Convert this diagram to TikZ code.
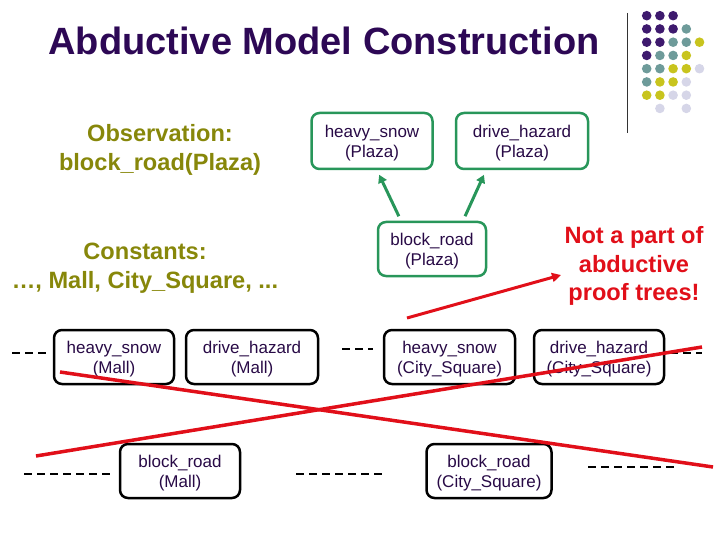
\documentclass[tikz,border=0pt]{standalone}
\usepackage{fontspec}
\setmainfont{Liberation Sans}
\usepackage{tikz}
\usetikzlibrary{positioning, arrows.meta}

\definecolor{titlepurple}{RGB}{45,8,85}
\definecolor{nodeink}{RGB}{40,10,70}
\definecolor{olive}{RGB}{135,135,10}
\definecolor{proofgreen}{RGB}{40,150,90}
\definecolor{crossred}{RGB}{225,15,25}
\definecolor{dotP}{RGB}{62,26,110}
\definecolor{dotT}{RGB}{110,155,154}
\definecolor{dotY}{RGB}{200,196,30}
\definecolor{dotL}{RGB}{214,214,232}

\tikzset{
  atom/.style={rounded corners=8pt, line width=2.5pt, align=center, text=nodeink,
    font=\fontsize{17}{20}\selectfont, inner sep=0pt, text depth=0pt},
  proofatom/.style={atom, draw=proofgreen},
  otheratom/.style={atom, draw=black},
  bigtext/.style={align=center, font=\fontsize{23.6}{28.5}\selectfont\bfseries},
  elide/.style={line width=2pt, dash pattern=on 8pt off 5pt},
  cross/.style={crossred, line width=3.5pt}
}

\begin{document}
\begin{tikzpicture}[x=1pt, y=-1pt]
\useasboundingbox (0,0) rectangle (720,540);
% title and decoration
\node[text=titlepurple, font=\fontsize{38}{44}\selectfont\bfseries] (title) at (324,41) {Abductive Model Construction};
\draw[line width=1pt, black!80] (627,13) -- (627,133);
\foreach \c/\r/\k in {0/0/dotP, 1/0/dotP, 2/0/dotP,
  0/1/dotP, 1/1/dotP, 2/1/dotP, 3/1/dotT,
  0/2/dotP, 1/2/dotP, 2/2/dotT, 3/2/dotT, 4/2/dotY,
  0/3/dotP, 1/3/dotT, 2/3/dotT, 3/3/dotY,
  0/4/dotT, 1/4/dotT, 2/4/dotY, 3/4/dotY, 4/4/dotL,
  0/5/dotT, 1/5/dotY, 2/5/dotY, 3/5/dotL,
  0/6/dotY, 1/6/dotY, 2/6/dotL, 3/6/dotL,
  1/7/dotL, 3/7/dotL}
  \fill[\k] (646.7+13.2*\c, 15.7+13.25*\r) circle (4.8);

% left texts
\node[bigtext, text=olive] (obs) at (160,150) {Observation:\\block\_road(Plaza)};
\node[bigtext, text=olive] (consts) at (145,268) {Constants:\\\ldots, Mall, City\_Square, ...};
\node[bigtext, text=crossred] (note) at (634,266) {Not a part of\\abductive\\proof trees!};

% proof tree for Plaza
\node[proofatom, minimum width=121pt, minimum height=56pt] (snowP) at (372,141) {heavy\_snow\\(Plaza)};
\node[proofatom, minimum width=132pt, minimum height=56pt] (hazardP) at (522,141) {drive\_hazard\\(Plaza)};
\node[proofatom, minimum width=108pt, minimum height=54pt] (roadP) at (432,249) {block\_road\\(Plaza)};
\draw[proofgreen, line width=3pt, -{Triangle[length=8pt, width=9pt]}, shorten >=5pt, shorten <=5pt] (roadP.north -| 401,0) -- (snowP.south -| 377,0);
\draw[proofgreen, line width=3pt, -{Triangle[length=8pt, width=9pt]}, shorten >=5pt, shorten <=5pt] (roadP.north -| 463,0) -- (hazardP.south -| 486,0);

% other constants
\node[otheratom, minimum width=120pt, minimum height=54pt] (snowM) at (114,357) {heavy\_snow\\(Mall)};
\node[otheratom, minimum width=132pt, minimum height=54pt] (hazardM) at (252,357) {drive\_hazard\\(Mall)};
\node[otheratom, minimum width=120pt, minimum height=54pt] (roadM) at (180,471) {block\_road\\(Mall)};
\node[otheratom, minimum width=131pt, minimum height=54pt] (snowC) at (449.5,357) {heavy\_snow\\(City\_Square)};
\node[otheratom, minimum width=130pt, minimum height=54pt] (hazardC) at (599,357) {drive\_hazard\\(City\_Square)};
\node[otheratom, minimum width=125pt, minimum height=54pt] (roadC) at (489,471) {block\_road\\(City\_Square)};

% elided atoms
\coordinate (e1) at (12,353);
\coordinate (e2) at (342,349);
\coordinate (e3) at (670,353);
\coordinate (e4) at (24,474);
\coordinate (e5) at (296,474);
\coordinate (e6) at (588,467);
\draw[elide] (e1) -- ++(34,0);
\draw[elide] (e2) -- ++(31,0);
\draw[elide] (e3) -- ++(32,0);
\draw[elide] (e4) -- ++(88,0);
\draw[elide] (e5) -- ++(88,0);
\draw[elide] (e6) -- ++(89,0);

% crossing out
\coordinate (x1) at (60,372);
\coordinate (x2) at (713,467);
\coordinate (x3) at (36,456);
\coordinate (x4) at (702,347);
\draw[cross] (x1) -- (x2);
\draw[cross] (x3) -- (x4);
\coordinate (pointer) at (407,318);
\draw[crossred, line width=3pt, -{Triangle[length=9pt, width=9pt]}] (pointer) -- (note.west |- 0,275);
\end{tikzpicture}
\end{document}
